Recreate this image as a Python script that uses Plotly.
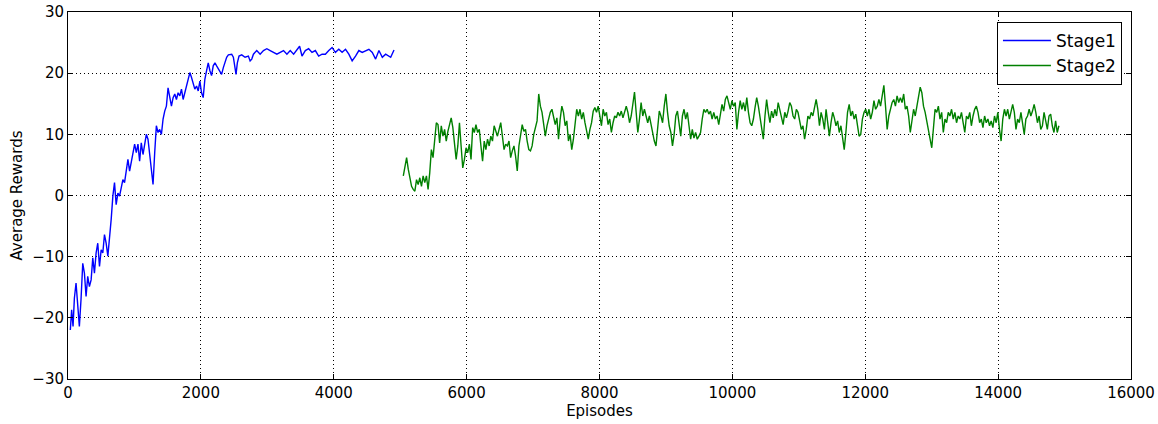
import numpy as np
import plotly.graph_objects as go

# ---- Data ----
stage1_episodes = [35, 55, 76, 96, 121, 146, 171, 196, 222, 247, 272, 297, 322, 348, 373, 398, 423, 448,
                   474, 499, 524, 549, 574, 600, 625, 650, 675, 700, 725, 751, 776, 801, 826, 851, 877,
                   902, 927, 952, 977, 1003, 1028, 1053, 1078, 1103, 1129, 1154, 1179, 1204, 1229, 1254,
                   1280, 1305, 1330, 1355, 1380, 1406, 1431, 1456, 1481, 1506, 1532, 1557, 1582, 1607,
                   1632, 1657, 1683, 1708, 1733, 1758, 1783, 1809, 1834, 1859, 1884, 1909, 1935, 1960,
                   1985, 2010, 2035, 2060, 2086, 2111, 2136, 2161, 2186, 2212, 2237, 2262, 2287, 2312,
                   2338, 2363, 2388,
                   2414, 2464, 2489, 2514, 2529, 2549, 2574, 2615, 2665, 2715, 2741, 2766, 2791, 2841,
                   2866, 2892, 2942, 2993, 3043, 3093, 3144, 3194, 3244, 3295, 3345, 3396, 3446, 3486,
                   3522, 3572, 3622, 3673, 3723, 3773, 3824, 3874, 3925, 3975, 4025, 4076, 4126, 4177,
                   4227, 4277, 4328, 4378, 4428, 4479, 4529, 4580, 4630, 4680, 4731, 4781, 4831, 4857, 4907]

stage1_rewards = [-22.0, -18.7, -21.4, -16.8, -14.3, -18.1, -21.4, -17.0, -11.1, -12.7, -16.5, -13.2,
                  -14.9, -13.8, -10.2, -12.7, -9.4, -7.8, -11.6, -8.9, -9.4, -6.4, -7.8, -9.9, -7.2,
                  -3.9, -0.1, 2.1, -1.5, 0.4, -0.1, 1.0, 2.6, 2.1, 4.5, 5.9, 4.0, 5.4, 6.4, 8.4, 7.0,
                  8.4, 5.6, 8.6, 6.7, 8.1, 10.0, 9.2, 6.4, 4.0, 1.8, 7.0, 11.4, 10.3, 10.8, 10.0, 12.5,
                  13.8, 14.6, 17.6, 15.7, 14.6, 16.0, 16.6, 15.7, 16.8, 16.3, 17.4, 15.7, 16.8, 17.6,
                  19.0, 20.1, 19.3, 18.5, 17.4, 17.9, 17.1, 18.7, 16.8, 16.0, 19.0, 20.4, 21.7, 20.4,
                  19.6, 21.2, 21.7, 21.2, 20.7, 20.1, 19.8, 20.9, 21.7, 22.6,
                  23.0, 23.1, 22.6, 20.7, 19.8, 21.7, 22.8, 23.0, 22.6, 22.8, 22.0, 22.3, 23.1, 23.7,
                  23.4, 23.1, 23.7, 24.0, 23.7, 23.4, 23.1, 23.4, 23.7, 23.1, 23.7, 23.1, 23.9, 24.4,
                  22.8, 23.7, 24.0, 23.4, 23.7, 22.8, 23.1, 23.1, 23.7, 24.2, 23.4, 23.9, 23.4, 23.9,
                  23.1, 22.0, 22.8, 23.7, 23.4, 23.7, 23.9, 23.4, 22.3, 23.7, 22.6, 23.1, 22.8, 22.6, 23.8]

stage2_first_episode = 5047
stage2_last_episode = 14915
stage2_rewards = [
    3.2, 4.8, 6.2, 4.3, 2.6, 1.5, 1.0, 0.7, 2.6, 1.8, 2.9, 1.5, 3.2, 2.1, 3.2,
    1.0,
    3.7, 7.5, 6.2, 8.6, 11.9, 11.6, 8.6, 11.4, 9.7, 10.8, 8.9, 10.5, 11.6, 12.7, 11.1, 8.9,
    5.9,
    8.1, 11.9, 8.1, 4.5, 5.9, 7.8, 7.0, 8.4, 5.9, 11.1, 10.3, 11.6, 10.3, 10.8, 8.1, 5.6, 8.9,
    7.5, 9.2, 8.1, 9.7, 8.9, 11.4, 10.3, 9.7, 10.8, 11.9, 9.7, 7.5, 8.4, 8.1, 8.9, 6.2, 7.3,
    8.1, 6.4, 4.0, 8.1, 9.7, 11.6, 10.5, 10.8, 8.9, 7.5, 7.3, 8.1, 10.0, 11.4, 12.2,
    16.6,
    14.6, 13.6, 11.9, 9.7, 11.4, 12.5, 13.6, 14.1, 13.0, 11.6, 12.7, 9.2, 12.5, 14.6, 13.6,
    11.4, 12.2, 8.9, 10.0, 7.5, 9.2, 11.4, 14.1, 13.0, 14.1, 12.5, 13.6, 11.9, 10.8, 9.2,
    10.8, 11.9, 13.8, 14.4, 13.6, 14.6, 13.0, 11.4, 14.1, 13.0, 13.6, 11.6, 12.5, 10.3, 11.9,
    13.0, 12.7, 13.6, 13.0, 13.8, 12.7, 13.8, 14.6, 13.6, 11.9, 13.0, 14.9,
    16.9,
    13.6, 10.3, 12.5, 15.2, 13.0, 14.1, 13.0, 11.9, 13.0, 11.6, 9.7, 8.9, 8.1, 11.4, 13.8,
    13.0, 11.9, 14.6, 16.6, 13.6, 11.4, 10.3, 8.1, 10.0, 13.0, 13.8, 11.4, 9.7, 13.0, 14.1,
    12.5, 13.6, 11.4, 9.2, 10.8, 9.4, 10.3, 9.2, 9.7, 10.3, 12.5, 14.1, 13.6, 14.1, 13.3,
    13.8, 12.5, 13.6, 12.5, 13.0, 11.6, 13.6, 14.9, 13.8, 15.7, 16.3, 14.9, 14.1, 15.5, 14.6,
    15.2, 10.8, 13.6, 15.5, 14.1, 15.2, 13.8, 16.0, 13.6,
    11.9,
    11.4, 12.5, 14.4, 16.0, 14.6, 13.0, 11.4,
    9.2,
    13.0, 15.7, 13.6, 11.9, 13.8, 12.7, 14.1, 13.0, 15.2, 13.8, 13.0, 11.6, 13.6, 12.7, 13.8,
    15.2, 14.6, 13.0, 12.5, 14.1, 13.6, 11.9, 10.8, 11.4, 9.2, 10.8, 13.0, 12.5, 13.6, 13.0,
    14.6, 15.7, 14.1, 11.4, 13.6, 12.5, 10.8, 14.1, 11.9, 9.7, 11.9, 13.6, 12.7, 11.4, 12.2,
    10.3, 11.4, 9.2,
    7.5,
    10.3, 13.6, 14.9, 13.0, 13.8, 12.5, 13.3, 11.6, 9.7, 10.0, 12.5, 13.6, 14.1, 13.0, 14.1,
    12.5, 13.6, 15.5, 14.1, 14.6, 15.7, 14.6, 16.6,
    18.0,
    14.6, 10.8, 13.0, 14.1, 15.2, 15.7, 14.6, 16.3, 15.2, 16.0, 15.2, 16.6, 14.1, 14.6, 13.0,
    10.3, 12.5, 14.1, 13.0, 14.6, 16.3, 17.7, 16.8, 14.6, 13.6, 11.9, 10.8, 9.2,
    7.8,
    11.4, 14.1, 13.6, 14.6, 12.5, 13.6, 10.3, 12.5, 11.9, 13.6, 13.0, 14.1, 12.5, 13.6, 11.9,
    13.0, 12.5, 13.6, 11.9, 10.3, 13.0, 12.5, 13.6, 11.4, 13.0, 14.1, 14.6, 13.6, 11.9, 12.5,
    11.1, 13.0, 11.9, 12.5, 11.4, 12.2, 11.1, 13.0, 11.9, 13.6, 10.8, 8.9, 12.5, 14.1, 13.0,
    14.1, 12.5, 13.6, 14.9, 13.6, 10.8, 12.5, 11.9, 13.6, 11.4, 10.0, 12.5, 13.0, 14.1, 13.0,
    13.8, 14.9, 13.6, 11.9, 13.0, 10.8, 11.4, 13.6, 12.2, 10.8, 13.0, 13.3, 11.4, 10.3, 12.2,
    10.3,
    11.4,
]
stage2_episodes = np.linspace(stage2_first_episode, stage2_last_episode, len(stage2_rewards))

x_ticks = [0, 2000, 4000, 6000, 8000, 10000, 12000, 14000, 16000]
y_ticks = [-30, -20, -10, 0, 10, 20, 30]

FONT = "DejaVu Sans"

fig = go.Figure()
fig.add_trace(go.Scatter(x=stage1_episodes, y=stage1_rewards, mode="lines", name="Stage1",
                         line=dict(color="#0000ff", width=1.4)))
fig.add_trace(go.Scatter(x=stage2_episodes, y=stage2_rewards, mode="lines", name="Stage2",
                         line=dict(color="#008000", width=1.4)))

axis_common = dict(
    showline=True, linecolor="black", linewidth=1, mirror="ticks",
    ticks="inside", ticklen=5, tickcolor="black", tickwidth=1,
    showgrid=True, gridcolor="black", gridwidth=1, griddash="1px,3px",
    zeroline=False, automargin=False,
    tickfont=dict(family=FONT, size=15, color="black"),
)

fig.update_xaxes(range=[0, 16000], tickvals=x_ticks, ticktext=[str(v) for v in x_ticks],
                 title=dict(text="Episodes", font=dict(family=FONT, size=15, color="black"), standoff=4),
                 **axis_common)
fig.update_yaxes(range=[-30, 30], tickvals=y_ticks,
                 ticktext=[("\u2212" + str(-v)) if v < 0 else str(v) for v in y_ticks],
                 title=dict(text="Average Rewards", font=dict(family=FONT, size=15, color="black"), standoff=6),
                 **axis_common)

fig.update_layout(
    width=1158, height=424,
    margin=dict(l=68, r=27, t=12, b=45),
    paper_bgcolor="white", plot_bgcolor="white",
    font=dict(family=FONT, color="black"),
    showlegend=True,
    legend=dict(x=0.9915, xanchor="right", y=0.973, yanchor="top",
                bordercolor="black", borderwidth=1, bgcolor="white",
                itemwidth=48, tracegroupgap=0,
                font=dict(family=FONT, size=17, color="black")),
)

fig.write_html("out.html")
